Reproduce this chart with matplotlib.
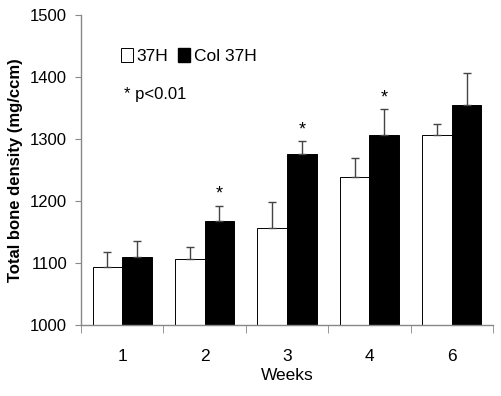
import matplotlib
matplotlib.use("Agg")
import matplotlib.pyplot as plt
from matplotlib.patches import Patch
import numpy as np

plt.rcParams['font.family'] = ['Liberation Sans', 'DejaVu Sans']

weeks = ["1", "2", "3", "4", "6"]
h37 = [1093, 1107, 1157, 1239, 1306]
h37_err = [24, 19, 42, 31, 18]
col37 = [1110, 1168, 1276, 1307, 1355]
col37_err = [25, 24, 20, 41, 51]
sig = [False, True, True, True, False]

fig = plt.figure(figsize=(5.01, 3.96), dpi=100)
ax = fig.add_axes([0.1617, 0.1793, 0.8223, 0.7828])

x = np.arange(len(weeks))
w = 0.36
ekw = dict(ecolor='#444444', elinewidth=1.0, capsize=3, capthick=1.0)
ax.bar(x - w/2, h37, w, color='white', edgecolor='black', linewidth=0.7,
       yerr=[np.zeros(len(x)), h37_err], error_kw=ekw, zorder=2)
ax.bar(x + w/2, col37, w, color='black', edgecolor='black', linewidth=0.7,
       yerr=[np.zeros(len(x)), col37_err], error_kw=ekw, zorder=2)

for i in range(len(x)):
    if sig[i]:
        ax.text(x[i] + w/2, col37[i] + col37_err[i] + 5, '*', ha='center', va='bottom',
                fontsize=13)

ax.set_ylim(1000, 1500)
ax.set_yticks(range(1000, 1501, 100))
ax.set_xlim(-0.5, len(x) - 0.5)
ax.set_xticks(x)
ax.set_xticklabels(weeks, fontsize=12.5)
ax.set_xticks(np.arange(len(x) + 1) - 0.5, minor=True)
ax.tick_params(axis='x', which='major', length=0, pad=17)
ax.tick_params(axis='x', which='minor', length=6, color='#888888', direction='out')
ax.tick_params(axis='y', labelsize=12, length=4, color='#888888', pad=6)
for s in ['top', 'right']:
    ax.spines[s].set_visible(False)
for s in ['left', 'bottom']:
    ax.spines[s].set_color('#888888')
    ax.spines[s].set_linewidth(1.0)

ax.set_xlabel('Weeks', fontsize=12.5, labelpad=3)
ax.set_ylabel('Total bone density (mg/ccm)', fontsize=12, fontweight='bold', labelpad=5)

handles = [Patch(facecolor='white', edgecolor='black', linewidth=0.7),
           Patch(facecolor='black', edgecolor='black')]
leg = ax.legend(handles, ['37H', 'Col 37H'], ncol=2, frameon=False, fontsize=12.5,
                handlelength=0.7, handleheight=0.9, handletextpad=0.2, columnspacing=0.6,
                loc='upper left', bbox_to_anchor=(0.058, 0.945))
ax.text(0.105, 0.745, '* p<0.01', transform=ax.transAxes, fontsize=12, va='center')

fig.savefig('out.png', dpi=100)
